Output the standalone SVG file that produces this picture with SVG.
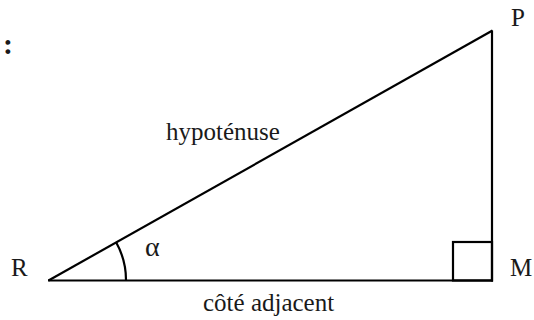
<svg xmlns="http://www.w3.org/2000/svg" width="534" height="320" viewBox="0 0 534 320">
<style>
.ln{fill:none;stroke:#000;stroke-width:2.2}
.t{font-family:"Liberation Serif","Times New Roman",serif;font-size:25px;fill:#1a1a1a}
</style>
<rect width="534" height="320" fill="#fff"/>
<text class="t" x="3" y="54" style="font-size:30px;font-weight:bold">:</text>
<g id="connectors">
<line class="ln" x1="48" y1="280.5" x2="493" y2="280.5"/>
<line class="ln" x1="492" y1="281.5" x2="492" y2="30.5"/>
<line class="ln" x1="48.5" y1="280.5" x2="492.5" y2="30.5"/>
</g>
<g id="angle-alpha">
<path class="ln" d="M116.1 242.3 A77 77 0 0 1 126 280.5"/>
<text class="t" x="145" y="256" style="font-size:28px">α</text>
</g>
<g id="right-angle">
<rect class="ln" x="453" y="242" width="39" height="38.5"/>
</g>
<g id="R"><text class="t" x="11" y="276">R</text></g>
<g id="M"><text class="t" x="510" y="276">M</text></g>
<g id="P"><text class="t" x="511" y="26">P</text></g>
<g id="hyp"><text class="t" x="166" y="140">hypoténuse</text></g>
<g id="adj"><text class="t" x="203" y="311">côté adjacent</text></g>
</svg>
